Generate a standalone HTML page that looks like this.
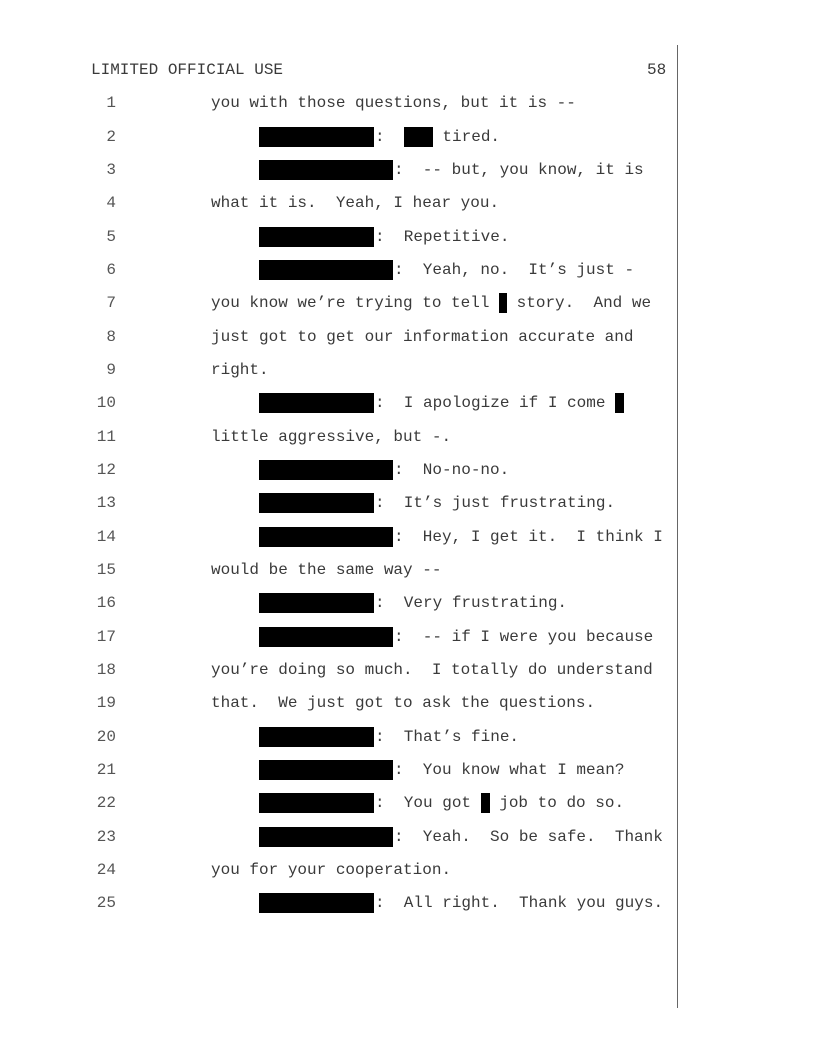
<!DOCTYPE html>
<html><head><meta charset="utf-8"><style>
body{margin:0;background:#fff;}
.pg{position:relative;width:816px;height:1056px;overflow:hidden;font-family:"Liberation Mono","DejaVu Sans Mono",monospace;font-size:16px;color:#3a3a3a;}
.l{position:absolute;height:20px;line-height:20px;white-space:pre;}
.n{position:absolute;width:40px;text-align:right;left:76px;color:#555;height:20px;line-height:20px;}
.b{position:absolute;background:#000;height:20px;left:259px;}
.i{display:inline-block;background:#000;height:20px;vertical-align:top;}
.vl{position:absolute;left:677px;top:45px;width:1px;height:963px;background:#666;}
</style></head><body><div class="pg">
<div class="vl"></div>
<div class="l" style="left:91px;top:60px">LIMITED OFFICIAL USE</div>
<div class="l" style="left:647px;top:60px">58</div>

<div class="n" style="top:93px">1</div><div class="l" style="left:211px;top:93px">you with those questions, but it is --</div>
<div class="n" style="top:127px">2</div><div class="b" style="top:127px;width:115px"></div><div class="l" style="left:375px;top:127px">:  <span class="i" style="width:29px"></span> tired.</div>
<div class="n" style="top:160px">3</div><div class="b" style="top:160px;width:134px"></div><div class="l" style="left:394px;top:160px">:  -- but, you know, it is</div>
<div class="n" style="top:193px">4</div><div class="l" style="left:211px;top:193px">what it is.  Yeah, I hear you.</div>
<div class="n" style="top:227px">5</div><div class="b" style="top:227px;width:115px"></div><div class="l" style="left:375px;top:227px">:  Repetitive.</div>
<div class="n" style="top:260px">6</div><div class="b" style="top:260px;width:134px"></div><div class="l" style="left:394px;top:260px">:  Yeah, no.  It’s just -</div>
<div class="n" style="top:293px">7</div><div class="l" style="left:211px;top:293px">you know we’re trying to tell <span class="i" style="width:8px"></span> story.  And we</div>
<div class="n" style="top:327px">8</div><div class="l" style="left:211px;top:327px">just got to get our information accurate and</div>
<div class="n" style="top:360px">9</div><div class="l" style="left:211px;top:360px">right.</div>
<div class="n" style="top:393px">10</div><div class="b" style="top:393px;width:115px"></div><div class="l" style="left:375px;top:393px">:  I apologize if I come <span class="i" style="width:9px"></span></div>
<div class="n" style="top:427px">11</div><div class="l" style="left:211px;top:427px">little aggressive, but -.</div>
<div class="n" style="top:460px">12</div><div class="b" style="top:460px;width:134px"></div><div class="l" style="left:394px;top:460px">:  No-no-no.</div>
<div class="n" style="top:493px">13</div><div class="b" style="top:493px;width:115px"></div><div class="l" style="left:375px;top:493px">:  It’s just frustrating.</div>
<div class="n" style="top:527px">14</div><div class="b" style="top:527px;width:134px"></div><div class="l" style="left:394px;top:527px">:  Hey, I get it.  I think I</div>
<div class="n" style="top:560px">15</div><div class="l" style="left:211px;top:560px">would be the same way --</div>
<div class="n" style="top:593px">16</div><div class="b" style="top:593px;width:115px"></div><div class="l" style="left:375px;top:593px">:  Very frustrating.</div>
<div class="n" style="top:627px">17</div><div class="b" style="top:627px;width:134px"></div><div class="l" style="left:394px;top:627px">:  -- if I were you because</div>
<div class="n" style="top:660px">18</div><div class="l" style="left:211px;top:660px">you’re doing so much.  I totally do understand</div>
<div class="n" style="top:693px">19</div><div class="l" style="left:211px;top:693px">that.  We just got to ask the questions.</div>
<div class="n" style="top:727px">20</div><div class="b" style="top:727px;width:115px"></div><div class="l" style="left:375px;top:727px">:  That’s fine.</div>
<div class="n" style="top:760px">21</div><div class="b" style="top:760px;width:134px"></div><div class="l" style="left:394px;top:760px">:  You know what I mean?</div>
<div class="n" style="top:793px">22</div><div class="b" style="top:793px;width:115px"></div><div class="l" style="left:375px;top:793px">:  You got <span class="i" style="width:9px"></span> job to do so.</div>
<div class="n" style="top:827px">23</div><div class="b" style="top:827px;width:134px"></div><div class="l" style="left:394px;top:827px">:  Yeah.  So be safe.  Thank</div>
<div class="n" style="top:860px">24</div><div class="l" style="left:211px;top:860px">you for your cooperation.</div>
<div class="n" style="top:893px">25</div><div class="b" style="top:893px;width:115px"></div><div class="l" style="left:375px;top:893px">:  All right.  Thank you guys.</div>
</div></body></html>
